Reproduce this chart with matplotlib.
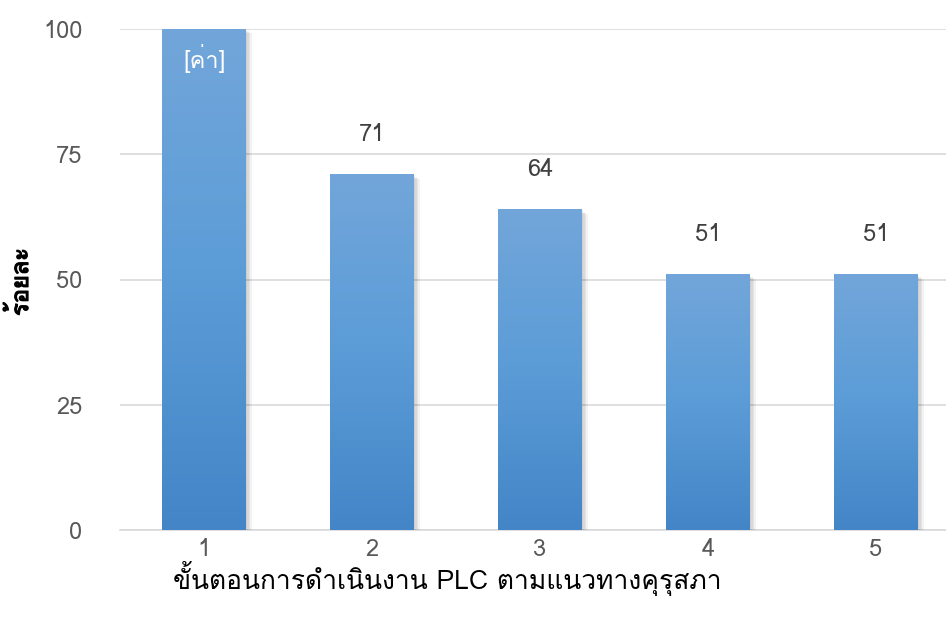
import numpy as np
import matplotlib
matplotlib.use("Agg")
import matplotlib.pyplot as plt
from matplotlib import font_manager
from matplotlib.ft2font import FT2Font
from matplotlib.colors import LinearSegmentedColormap
import matplotlib.patheffects as pe

categories = ["1", "2", "3", "4", "5"]
values = [100, 71, 64, 51, 51]
bar_labels = ["[ค่า]", "71", "64", "51", "51"]
y_ticks = [0, 25, 50, 75, 100]
x_title = "ขั้นตอนการดำเนินงาน PLC ตามแนวทางคุรุสภา"
y_title = "ร้อยละ"


def find_thai_fonts():
    # any installed family that has Thai letters and tone marks
    found = []
    for f in font_manager.fontManager.ttflist:
        try:
            ft = FT2Font(f.fname)
            if ft.get_char_index(0x0E23) and ft.get_char_index(0x0E49) and f.name not in found:
                found.append(f.name)
        except Exception:
            pass
    return found


thai = find_thai_fonts()
plt.rcParams['font.family'] = thai + ['DejaVu Sans']

fig = plt.figure(figsize=(9.46, 6.21), dpi=100)
# plot area: x 120..960 px, y 29..530 px
ax = fig.add_axes([120 / 946, 1 - 530 / 621, 840 / 946, 501 / 621])

x = np.arange(len(categories))
# soft shadow from a few faint offset copies
shadow = [pe.SimplePatchShadow(offset=(d, -d * 0.8), shadow_rgbFace="#000000", alpha=0.05)
          for d in (1, 2, 3, 4)]
bars = ax.bar(x, values, width=0.5, color="#5b9bd5", zorder=3,
              path_effects=shadow + [pe.Normal()])

cmap = LinearSegmentedColormap.from_list("bar", ["#4385c7", "#5b9cd7", "#72a6da"])
grad = np.linspace(0, 1, 256).reshape(-1, 1)
for b in bars:
    x0, y0 = b.get_x(), b.get_y()
    w, h = b.get_width(), b.get_height()
    im = ax.imshow(grad, cmap=cmap, origin="lower", aspect="auto",
                   extent=[x0, x0 + w, y0, y0 + h], zorder=4)
    im.set_clip_path(b)

for i, (v, lab) in enumerate(zip(values, bar_labels)):
    if i == 0:
        ax.text(x[i], v - 3, lab, ha="center", va="top", fontsize=17, color="white", zorder=5)
    else:
        ax.text(x[i], v + 6.6, lab, ha="center", va="baseline", fontsize=17, color="#404040", zorder=5)

ax.set_xlim(-0.5, 4.5)
ax.set_ylim(0, 100)
ax.set_yticks(y_ticks)
ax.set_xticks(x)
ax.set_xticklabels(categories)
ax.tick_params(length=0, labelsize=17, labelcolor="#595959")
ax.tick_params(axis="y", pad=27)
ax.tick_params(axis="x", pad=6)
ax.grid(axis="y", color="#d9d9d9", linewidth=1.2, zorder=0)
for s in ["top", "right", "left"]:
    ax.spines[s].set_visible(False)
ax.spines["bottom"].set_color("#d9d9d9")
ax.spines["bottom"].set_linewidth(1.2)

ax.set_xlabel(x_title, fontsize=19, color="#000000", labelpad=0, x=(447 - 120) / 840)
fig.text(21 / 946, 1 - 282 / 621, y_title, rotation=90, fontsize=17, color="black",
         ha="center", va="center",
         path_effects=[pe.withStroke(linewidth=0.9, foreground="black")])

fig.savefig("out.png", dpi=100)
